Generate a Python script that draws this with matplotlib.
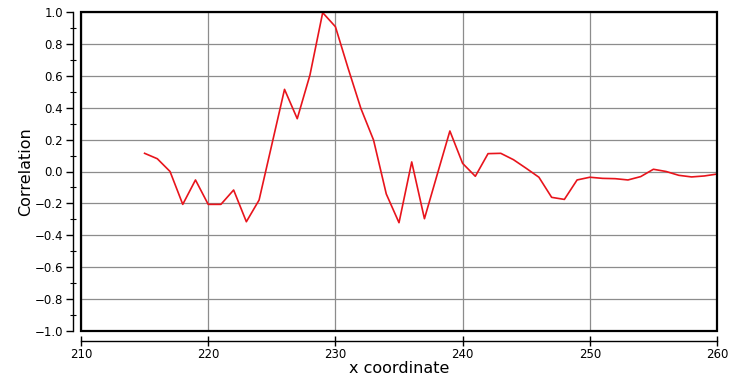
import matplotlib
matplotlib.use("Agg")
import matplotlib.pyplot as plt
from matplotlib.patches import Rectangle
from matplotlib.ticker import MultipleLocator

x_coord = list(range(215, 261))
correlation = [
    0.114, 0.080, 0.000, -0.206, -0.053, -0.206, -0.206, -0.116, -0.315, -0.179,
    0.168, 0.515, 0.331, 0.605, 0.996, 0.908, 0.647, 0.396, 0.197, -0.141,
    -0.321, 0.060, -0.296, -0.020, 0.254, 0.051, -0.030, 0.112, 0.114, 0.074,
    0.020, -0.036, -0.162, -0.175, -0.053, -0.036, -0.043, -0.045, -0.053, -0.032,
    0.014, 0.000, -0.024, -0.034, -0.028, -0.016,
]
x_ticks = [210, 220, 230, 240, 250, 260]
y_ticks = [-1.0, -0.8, -0.6, -0.4, -0.2, 0.0, 0.2, 0.4, 0.6, 0.8, 1.0]

plt.rcParams['font.family'] = ['DejaVu Sans']
fig = plt.figure(figsize=(7.35, 3.78), dpi=100)
ax = fig.add_axes([81/735, 47/378, 636/735, 319/378])

ax.plot(x_coord, correlation, color='#e8141c', lw=1.2, zorder=3)
ax.set_xlim(210, 260)
ax.set_ylim(-1.0, 1.0)
ax.set_xticks(x_ticks)
ax.set_yticks(y_ticks)
ax.set_yticklabels([f"{v:.1f}".replace('-', '\u2212') for v in y_ticks])
ax.yaxis.set_minor_locator(MultipleLocator(0.1))

ax.grid(True, which='major', color='#8c8c8c', lw=0.9, zorder=1)

for s in ['top', 'right']:
    ax.spines[s].set_visible(False)
ax.spines['left'].set_position(('outward', 6))
ax.spines['bottom'].set_position(('outward', 7))
ax.spines['left'].set_linewidth(1.0)
ax.spines['bottom'].set_linewidth(1.0)
ax.add_patch(Rectangle((0, 0), 1, 1, transform=ax.transAxes, fill=False,
                       lw=1.6, ec='black', clip_on=False, zorder=4))

ax.tick_params(axis='y', which='major', direction='out', length=5, width=1.0,
               labelsize=8.5, pad=2)
ax.tick_params(axis='y', which='minor', direction='inout', length=4, width=0.8)
ax.tick_params(axis='x', which='major', direction='inout', length=7, width=1.0,
               labelsize=8.5, pad=1.5)

ax.set_xlabel('x coordinate', fontsize=11.5)
ax.set_ylabel('Correlation', fontsize=11.5)
ax.xaxis.set_label_coords(0.5, -0.094)
ax.yaxis.set_label_coords(-0.075, 0.5)

fig.savefig('out.png', dpi=100)
